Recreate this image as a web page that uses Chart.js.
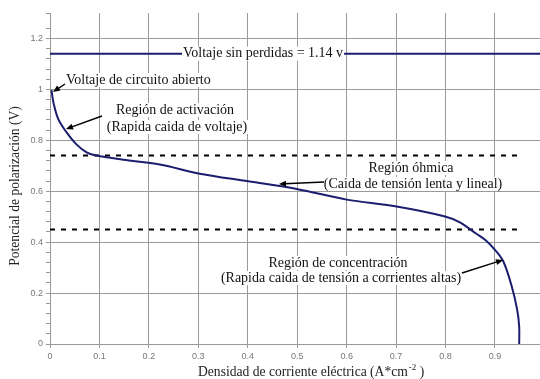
<!DOCTYPE html>
<html>
<head>
<meta charset="utf-8">
<title>Curva de polarización</title>
<script src="https://cdn.jsdelivr.net/npm/chart.js@4/dist/chart.umd.min.js"></script>
<style>
  html, body { margin: 0; padding: 0; background: #fff; overflow: hidden; }
  canvas { display: block; }
</style>
</head>
<body>
<canvas id="chart" width="560" height="379"></canvas>
<script>
// Polarization curve of a fuel cell: current density (A/cm²) vs cell voltage (V)
const currentDensity = [0.003, 0.007, 0.017, 0.034, 0.054, 0.074, 0.094, 0.148, 0.222, 0.303,
                        0.401, 0.499, 0.600, 0.698, 0.799, 0.829, 0.863, 0.880, 0.900, 0.917,
                        0.934, 0.945, 0.949, 0.949];
const cellVoltage    = [0.997, 0.948, 0.882, 0.830, 0.783, 0.753, 0.740, 0.724, 0.705, 0.669,
                        0.639, 0.609, 0.567, 0.541, 0.501, 0.478, 0.432, 0.409, 0.370, 0.324,
                        0.226, 0.134, 0.068, 0.000];

// Reference voltages
const idealVoltage = 1.14;          // Voltaje sin perdidas
const activationLimit = 0.74;       // end of activation region
const concentrationLimit = 0.45;    // start of concentration region
const dashedRange = [0, 0.946];
const idealRange = [0, 1.0];

// Axis ranges and tick spacing
const xRange = [0, 1.0];
const xStep = 0.1;
const yRange = [0, 1.3];
const yMinorStep = 0.04;
const yMajorStep = 0.2;

const NAVY = '#1b1d6e';
const GRID = '#9a9a9a';
const SERIF = "'Liberation Serif', 'DejaVu Serif', serif";

const curvePoints = currentDensity.map((x, i) => ({ x, y: cellVoltage[i] }));
const hLine = (range, v) => range.map(x => ({ x, y: v }));

function isMajor(v) {
  const r = v / yMajorStep;
  return Math.abs(r - Math.round(r)) < 1e-6;
}

// Text labels with arrows pointing at the curve
const notes = [
  { lines: [{ t: 'Voltaje de circuito abierto', x: 66, y: 80, align: 'left' }],
    arrow: [65, 84, 53, 92] },
  { lines: [{ t: 'Región de activación', x: 175, y: 110, align: 'center' },
            { t: '(Rapida caida de voltaje)', x: 177, y: 127, align: 'center' }],
    arrow: [102, 116, 66, 129] },
  { lines: [{ t: 'Región óhmica', x: 411, y: 168, align: 'center' },
            { t: '(Caida de tensión lenta y lineal)', x: 413, y: 184, align: 'center' }],
    arrow: [324, 182, 279, 184] },
  { lines: [{ t: 'Región de concentración', x: 338, y: 263, align: 'center' },
            { t: '(Rapida caida de tensión a corrientes altas)', x: 341, y: 278, align: 'center' }],
    arrow: [462, 273, 503, 260] }
];

function drawArrow(ctx, x1, y1, x2, y2) {
  const ang = Math.atan2(y2 - y1, x2 - x1);
  const len = 7, wid = 3;
  ctx.save();
  ctx.strokeStyle = '#000';
  ctx.fillStyle = '#000';
  ctx.lineWidth = 1.4;
  ctx.beginPath();
  ctx.moveTo(x1, y1);
  ctx.lineTo(x2 - Math.cos(ang) * len * 0.8, y2 - Math.sin(ang) * len * 0.8);
  ctx.stroke();
  ctx.beginPath();
  ctx.moveTo(x2, y2);
  ctx.lineTo(x2 - Math.cos(ang) * len + Math.sin(ang) * wid, y2 - Math.sin(ang) * len - Math.cos(ang) * wid);
  ctx.lineTo(x2 - Math.cos(ang) * len - Math.sin(ang) * wid, y2 - Math.sin(ang) * len + Math.cos(ang) * wid);
  ctx.closePath();
  ctx.fill();
  ctx.restore();
}

function boxedText(ctx, t, x, y, align) {
  ctx.textAlign = align;
  ctx.textBaseline = 'middle';
  const w = ctx.measureText(t).width;
  const left = align === 'center' ? x - w / 2 : x;
  ctx.fillStyle = '#fff';
  ctx.fillRect(left - 1, y - 7, w + 2, 14);
  ctx.fillStyle = '#111';
  ctx.fillText(t, x, y);
}

const annotationPlugin = {
  id: 'polarizationNotes',
  afterDatasetsDraw(chart) {
    const { ctx, scales } = chart;
    ctx.save();
    ctx.font = '14px ' + SERIF;

    // label sitting on the ideal voltage line
    const yIdeal = scales.y.getPixelForValue(idealVoltage);
    boxedText(ctx, 'Voltaje sin perdidas = 1.14 v', 183, yIdeal, 'left');

    notes.forEach(n => {
      n.lines.forEach(l => boxedText(ctx, l.t, l.x, l.y, l.align));
      drawArrow(ctx, ...n.arrow);
    });

    // axis titles
    ctx.fillStyle = '#222';
    ctx.font = '13.6px ' + SERIF;
    ctx.textBaseline = 'middle';
    ctx.textAlign = 'left';
    const base = 'Densidad de corriente eléctrica (A*cm';
    const tx = 198, ty = 372;
    ctx.fillText(base, tx, ty);
    let w = ctx.measureText(base).width;
    ctx.font = '9px ' + SERIF;
    ctx.fillText('-2', tx + w + 1, ty - 4);
    const w2 = ctx.measureText('-2').width;
    ctx.font = '13.6px ' + SERIF;
    ctx.fillText(' )', tx + w + 1 + w2, ty);

    ctx.save();
    ctx.translate(15, 186);
    ctx.rotate(-Math.PI / 2);
    ctx.textAlign = 'center';
    ctx.fillText('Potencial de polarización (V)', 0, 0);
    ctx.restore();

    ctx.restore();
  }
};

new Chart(document.getElementById('chart'), {
  type: 'line',
  data: {
    datasets: [
      { label: 'Curva de polarización', data: curvePoints, borderColor: NAVY, borderWidth: 2,
        pointRadius: 0, tension: 0.35, fill: false, order: 0 },
      { label: 'Voltaje sin perdidas', data: hLine(idealRange, idealVoltage), borderColor: NAVY,
        borderWidth: 2.2, pointRadius: 0, order: 1 },
      { label: 'Límite activación', data: hLine(dashedRange, activationLimit), borderColor: '#000',
        borderWidth: 2, borderDash: [5, 6], pointRadius: 0, order: 2 },
      { label: 'Límite concentración', data: hLine(dashedRange, concentrationLimit), borderColor: '#000',
        borderWidth: 2, borderDash: [5, 6], pointRadius: 0, order: 2 }
    ]
  },
  options: {
    responsive: false,
    animation: false,
    parsing: true,
    layout: { padding: { top: 13, right: 15.6, left: 0, bottom: 0 } },
    plugins: { legend: { display: false }, tooltip: { enabled: false } },
    scales: {
      x: {
        type: 'linear',
        min: xRange[0], max: xRange[1],
        afterFit(scale) { scale.height = 35; },
        grid: { color: GRID, lineWidth: 1, tickLength: 4, tickColor: GRID },
        border: { color: GRID, width: 1 },
        ticks: {
          stepSize: xStep, autoSkip: false, padding: 3, color: '#777',
          font: { family: "'Liberation Sans', Arial, sans-serif", size: 9 },
          callback: v => String(+v.toFixed(1))
        }
      },
      y: {
        type: 'linear',
        min: yRange[0], max: yRange[1],
        afterFit(scale) { scale.width = 50; },
        grid: {
          color: ctx => isMajor(ctx.tick.value) ? GRID : 'rgba(0,0,0,0)',
          tickColor: GRID, tickLength: 4, lineWidth: 1
        },
        border: { color: GRID, width: 1 },
        ticks: {
          stepSize: yMinorStep, autoSkip: false, padding: 3, color: '#777',
          font: { family: "'Liberation Sans', Arial, sans-serif", size: 9 },
          callback: v => isMajor(v) ? String(+v.toFixed(1)) : ''
        }
      }
    }
  },
  plugins: [annotationPlugin]
});
</script>
</body>
</html>
